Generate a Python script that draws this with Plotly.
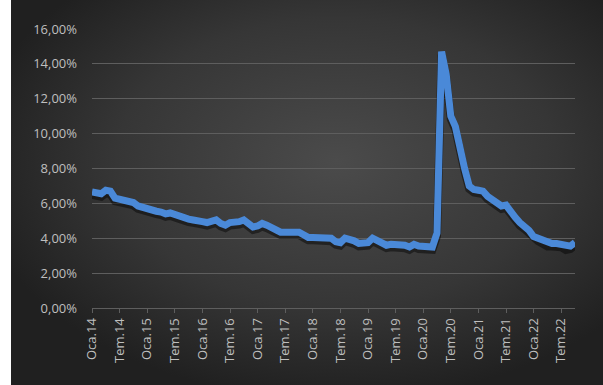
import base64
import plotly.graph_objects as go

# ---- data ----
month_names = ["Oca", "Şub", "Mar", "Nis", "May", "Haz", "Tem", "Ağu", "Eyl", "Eki", "Kas", "Ara"]
years = ["14", "15", "16", "17", "18", "19", "20", "21", "22"]
values = [
    6.65, 6.60, 6.55, 6.75, 6.70, 6.30, 6.25, 6.20, 6.20, 6.05, 5.85, 5.75,   # 2014
    5.75, 5.60, 5.55, 5.50, 5.40, 5.45, 5.35, 5.20, 5.15, 5.10, 5.05, 5.05,   # 2015
    4.95, 4.90, 4.95, 5.05, 4.85, 4.75, 4.90, 4.90, 4.95, 5.05, 4.85, 4.65,   # 2016
    4.70, 4.85, 4.75, 4.60, 4.40, 4.35, 4.35, 4.35, 4.30, 4.35, 4.20, 4.05,   # 2017
    4.05, 4.05, 4.05, 4.05, 4.00, 3.80, 3.75, 4.00, 3.95, 3.85, 3.70, 3.70,   # 2018
    3.75, 4.00, 3.85, 3.75, 3.60, 3.65, 3.65, 3.70, 3.60, 3.50, 3.65, 3.55,   # 2019
    3.50, 3.55, 3.50, 4.30, 14.70, 13.40, 11.00, 10.40, 9.00, 8.00, 7.00, 6.80,  # 2020
    6.75, 6.70, 6.40, 6.20, 6.10, 5.85, 5.90, 5.50, 5.20, 4.90, 4.70, 4.45,   # 2021
    4.10, 4.00, 3.85, 3.70, 3.70, 3.70, 3.65, 3.50, 3.55, 3.75,               # 2022
]
categories = [f"{m}.{y}" for y in years for m in month_names][: len(values)]
tick_labels = categories[::6]
y_ticks = [0, 2, 4, 6, 8, 10, 12, 14, 16]
y_tick_text = ["0,00%", "2,00%", "4,00%", "6,00%", "8,00%", "10,00%", "12,00%", "14,00%", "16,00%"]

# ---- background (radial gradient) ----
svg = """<svg xmlns='http://www.w3.org/2000/svg' width='592' height='385' viewBox='0 0 592 385' preserveAspectRatio='none'>
<defs><radialGradient id='g' cx='0.55' cy='0.42' r='0.62' gradientUnits='objectBoundingBox'>
<stop offset='0' stop-color='#4b4b4b'/><stop offset='0.6' stop-color='#363636'/><stop offset='1' stop-color='#202020'/>
</radialGradient></defs>
<rect width='592' height='385' fill='url(#g)'/></svg>"""
bg_src = "data:image/svg+xml;base64," + base64.b64encode(svg.encode()).decode()

W, H = 603, 385
ml, mr, mt, mb = 92, 28, 29, 77
pw, ph = W - ml - mr, H - mt - mb

fig = go.Figure()
# soft shadow under the line
fig.add_trace(go.Scatter(
    x=categories, y=[v - 0.17 for v in values], mode="lines",
    line=dict(color="rgba(0,0,0,0.45)", width=8), hoverinfo="skip", showlegend=False,
))
fig.add_trace(go.Scatter(
    x=categories, y=values, mode="lines",
    line=dict(color="#4a89d8", width=7), showlegend=False,
))

fig.update_layout(
    width=W, height=H,
    margin=dict(l=ml, r=mr, t=mt, b=mb),
    paper_bgcolor="white",
    plot_bgcolor="rgba(0,0,0,0)",
    font=dict(family="Open Sans, sans-serif", size=13, color="#bfbfbf"),
    images=[dict(
        source=bg_src, xref="paper", yref="paper",
        x=(11 - ml) / pw, y=1 + mt / ph, sizex=(W - 11) / pw, sizey=H / ph,
        xanchor="left", yanchor="top", sizing="stretch", layer="below",
    )],
    xaxis=dict(
        type="category", range=[0, len(values) - 1],
        tickmode="array", tickvals=tick_labels, ticktext=tick_labels,
        tickangle=-90, showgrid=False, showline=True, linecolor="#5e5e5e", linewidth=1,
        ticks="outside", ticklen=4, tickcolor="#5e5e5e",
        tickfont=dict(size=13, color="#bfbfbf"), zeroline=False,
    ),
    yaxis=dict(
        range=[0, 16], tickmode="array", tickvals=y_ticks, ticktext=y_tick_text,
        showgrid=True, gridcolor="#5e5e5e", gridwidth=1, zeroline=False,
        showline=False, ticks="", ticklabelstandoff=14,
        tickfont=dict(size=13, color="#bfbfbf"),
    ),
)

fig.write_html("out.html")
